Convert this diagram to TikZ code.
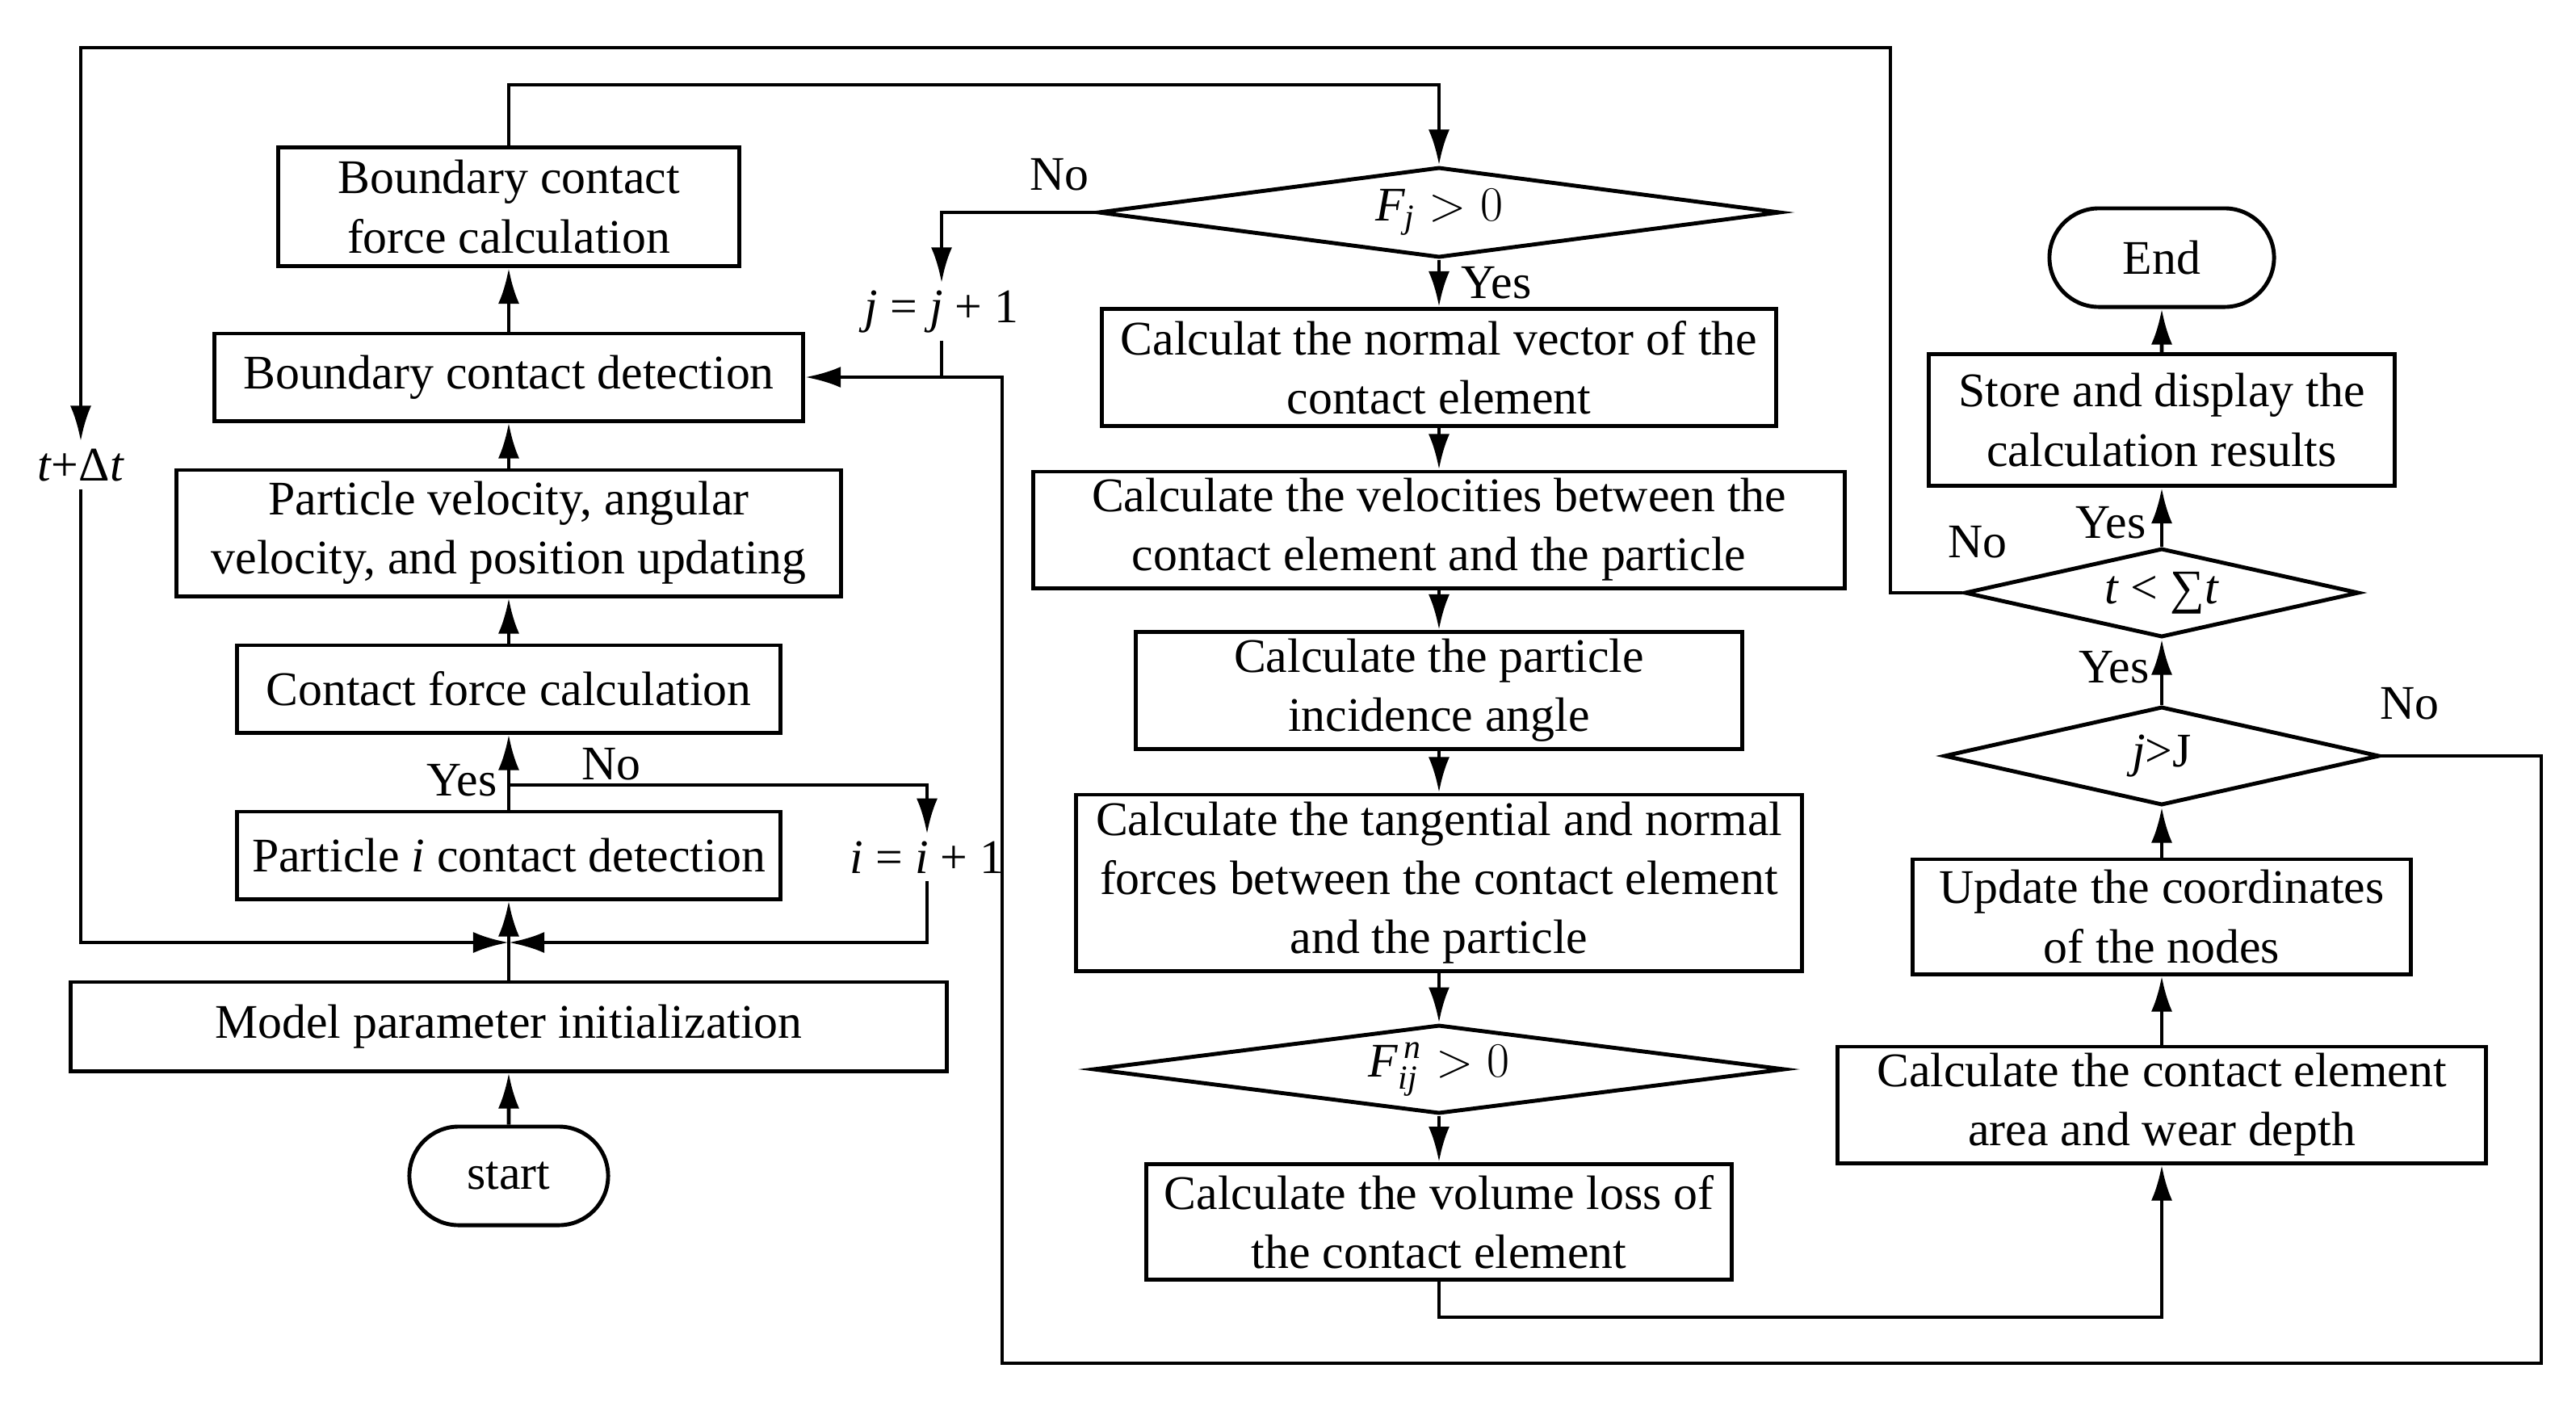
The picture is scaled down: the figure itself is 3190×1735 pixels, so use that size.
\documentclass[tikz,border=0pt]{standalone}
\usepackage{amsmath}
\usepackage{fontspec}
\setmainfont{Liberation Serif}
\usetikzlibrary{shapes,arrows.meta}

\begin{document}
\begin{tikzpicture}[x=0.01cm, y=-0.01cm, line width=1.4pt,
  font=\fontsize{17}{20.8}\selectfont,
  >={Latex[length=4.4mm,width=2.6mm]},
  procbox/.style={draw, rectangle, align=center, inner sep=1pt},
  decbox/.style={draw, diamond, inner sep=0pt},
  termbox/.style={draw, rounded rectangle, inner sep=1pt},
  lbl/.style={inner sep=2pt}]
\useasboundingbox (0,0) rectangle (3190,1735);

% left column
\node[termbox, minimum width=2.53cm, minimum height=1.22cm] (start) at (630,1456) {start};
\node[procbox, minimum width=10.85cm, minimum height=1.10cm] (mp) at (630,1271) {Model parameter initialization};
\node[procbox, minimum width=6.73cm, minimum height=1.08cm] (pic) at (630,1059) {Particle \textit{i} contact detection};
\node[procbox, minimum width=6.73cm, minimum height=1.08cm] (cf) at (630,853) {Contact force calculation};
\node[procbox, minimum width=8.23cm, minimum height=1.56cm] (pv) at (630,660) {Particle velocity, angular\\velocity, and position updating};
\node[procbox, minimum width=7.29cm, minimum height=1.08cm] (bcd) at (630,467) {Boundary contact detection};
\node[procbox, minimum width=5.71cm, minimum height=1.47cm] (bcf) at (630,256) {Boundary contact\\force calculation};

% middle column
\node[decbox, aspect=7.5, minimum width=8.44cm, minimum height=1.12cm] (fj) at (1782,263) {$\textit{F}_{\textit{j}} > 0$};
\node[procbox, minimum width=8.34cm, minimum height=1.45cm] (nv) at (1782,455) {Calculat the normal vector of the\\contact element};
\node[procbox, minimum width=10.05cm, minimum height=1.44cm] (vel) at (1782,656) {Calculate the velocities between the\\contact element and the particle};
\node[procbox, minimum width=7.50cm, minimum height=1.45cm] (ang) at (1782,855) {Calculate the particle\\incidence angle};
\node[procbox, minimum width=8.99cm, minimum height=2.18cm] (tf) at (1782,1093) {Calculate the tangential and normal\\forces between the contact element\\and the particle};
\node[decbox, aspect=7.8, minimum width=8.56cm, minimum height=1.10cm] (fij) at (1782,1324) {$\textit{F}_{\textit{ij}}^{\,\textit{n}} > 0$};
\node[procbox, minimum width=7.24cm, minimum height=1.43cm] (vol) at (1782,1513) {Calculate the volume loss of\\the contact element};

% right column
\node[termbox, minimum width=2.85cm, minimum height=1.22cm] (endn) at (2677,319) {End};
\node[procbox, minimum width=5.76cm, minimum height=1.63cm] (store) at (2677,520) {Store and display the\\calculation results};
\node[decbox, aspect=4.4, minimum width=4.88cm, minimum height=1.10cm] (tsum) at (2677,734) {\textit{t} < ∑\textit{t}};
\node[decbox, aspect=4.4, minimum width=5.39cm, minimum height=1.22cm] (jj) at (2677,936) {\textit{j}>J};
\node[procbox, minimum width=6.16cm, minimum height=1.42cm] (upd) at (2677,1135) {Update the coordinates\\of the nodes};
\node[procbox, minimum width=8.02cm, minimum height=1.44cm] (area) at (2677,1368) {Calculate the contact element\\area and wear depth};

% loop labels
\node[lbl] (tdt) at (100,576) {\textit{t}+Δ\textit{t}};
\node[lbl] (iinc) at (1148,1062) {\textit{i} = \textit{i} + 1};
\node[lbl] (jinc) at (1166,386) {\textit{j} = \textit{j} + 1};
\node[lbl] (yes1) at (572,966) {Yes};
\node[lbl] (no1) at (757,946) {No};
\node[lbl] (no2) at (1312,216) {No};
\node[lbl] (yes2) at (1853,350) {Yes};
\node[lbl] (no3) at (2449,671) {No};
\node[lbl] (yes3) at (2614,647) {Yes};
\node[lbl] (yes4) at (2618,826) {Yes};
\node[lbl] (no4) at (2984,871) {No};

\coordinate (jn) at (630,1167);
\coordinate (ibr) at (630,972);
\coordinate (loopR) at (3147,1688);
\coordinate (loopL) at (1241,1688);
\coordinate (topR) at (2341,59);

% left column flow
\draw[->] (start) -- (mp);
\draw[->] (mp) -- (pic);
\draw[->] (pic) -- (cf);
\draw[->] (cf) -- (pv);
\draw[->] (pv) -- (bcd);
\draw[->] (bcd) -- (bcf);
\draw[->] (ibr) -| (iinc.north);
\draw[->] (iinc.south) |- (jn);
\draw[->] (tdt.south) |- (jn);
\draw[->] (bcf.north) -- ++(0,-75) -| (fj.north);

% middle column flow
\draw[->] (fj) -- (nv);
\draw[->] (nv) -- (vel);
\draw[->] (vel) -- (ang);
\draw[->] (ang) -- (tf);
\draw[->] (tf) -- (fij);
\draw[->] (fij) -- (vol);
\draw[->] (fj.west) -| (jinc.north);
\draw (jinc.south) -- (jinc.south |- bcd.east);
\draw[->] (vol.south) -- ++(0,44) -| (area.south);

% right column flow
\draw[->] (area) -- (upd);
\draw[->] (upd) -- (jj);
\draw[->] (jj) -- (tsum);
\draw[->] (tsum) -- (store);
\draw[->] (store) -- (endn);
\draw[->] (jj.east) -| (loopR) -- (loopL) |- (bcd.east);
\draw[->] (tsum.west) -| (topR) -| (tdt.north);
\end{tikzpicture}
\end{document}
